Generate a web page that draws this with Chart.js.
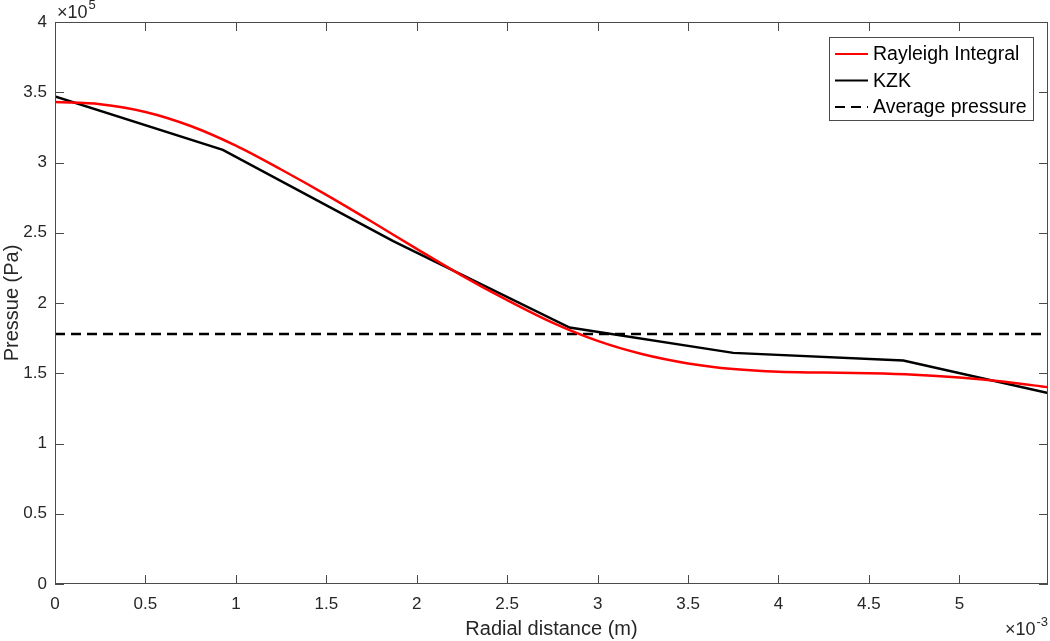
<!DOCTYPE html>
<html>
<head>
<meta charset="utf-8">
<title>Pressure vs radial distance</title>
<script src="https://cdn.jsdelivr.net/npm/chart.js@4"></script>
<style>
  html, body { margin: 0; padding: 0; background: #fff; }
  #wrap { width: 1050px; height: 641px; position: relative; }
</style>
</head>
<body>
<div id="wrap"><canvas id="chart"></canvas></div>
<script>
'use strict';

/* data: x in mm (x10^-3 m), pressure in x10^5 Pa */
const rayleighX = [0, 0.25, 0.5, 0.75, 1.0, 1.25, 1.5, 1.75, 2.0, 2.25, 2.5, 2.75, 3.0, 3.25, 3.5, 3.75, 4.0, 4.25, 4.5, 4.75, 5.0, 5.25, 5.49];
const rayleighY = [3.43, 3.415, 3.36, 3.26, 3.12, 2.95, 2.77, 2.58, 2.385, 2.195, 2.02, 1.86, 1.73, 1.635, 1.57, 1.53, 1.51, 1.505, 1.50, 1.49, 1.47, 1.44, 1.40];
const kzkX = [0, 0.928, 1.87, 2.845, 3.75, 4.69, 5.49];
const kzkY = [3.47, 3.09, 2.44, 1.825, 1.645, 1.59, 1.36];
const avgX = [0, 5.49];
const avgY = [1.78, 1.78];
const xTicks = [0, 0.5, 1, 1.5, 2, 2.5, 3, 3.5, 4, 4.5, 5];
const seriesNames = ['Rayleigh Integral', 'KZK', 'Average pressure'];

const FONT = "'Liberation Sans', Arial, Helvetica, sans-serif";
const AXIS_COLOR = '#4a4a4a';
const TEXT_COLOR = '#262626';

const toPts = (xs, ys) => xs.map((x, i) => ({ x, y: ys[i] }));

/* box, inward ticks and exponent labels, MATLAB style */
const axesBox = {
  id: 'axesBox',
  afterDraw(chart) {
    const { ctx, chartArea: a, scales: { x, y } } = chart;
    const tl = 9;
    ctx.save();
    ctx.strokeStyle = AXIS_COLOR;
    ctx.lineWidth = 1;
    ctx.strokeRect(a.left + 0.5, a.top + 0.5, a.right - a.left - 1, a.bottom - a.top - 1);
    ctx.beginPath();
    x.ticks.forEach(t => {
      const px = Math.round(x.getPixelForValue(t.value)) + 0.5;
      ctx.moveTo(px, a.bottom); ctx.lineTo(px, a.bottom - tl);
      ctx.moveTo(px, a.top); ctx.lineTo(px, a.top + tl);
    });
    y.ticks.forEach(t => {
      const py = Math.round(y.getPixelForValue(t.value)) + 0.5;
      ctx.moveTo(a.left, py); ctx.lineTo(a.left + tl, py);
      ctx.moveTo(a.right, py); ctx.lineTo(a.right - tl, py);
    });
    ctx.stroke();

    // exponent labels
    ctx.fillStyle = TEXT_COLOR;
    ctx.textBaseline = 'alphabetic';
    ctx.textAlign = 'left';
    ctx.font = '18px ' + FONT;
    ctx.fillText('\u00d710', a.left + 2, a.top - 4);
    let w = ctx.measureText('\u00d710').width;
    ctx.font = '13px ' + FONT;
    ctx.fillText('5', a.left + 2 + w + 1, a.top - 13);

    ctx.font = '18px ' + FONT;
    const ex = a.right - 43;
    ctx.fillText('\u00d710', ex, 635);
    w = ctx.measureText('\u00d710').width;
    ctx.font = '13px ' + FONT;
    ctx.fillText('-3', ex + w + 1, 626);
    ctx.restore();
  }
};

/* legend box in the upper right corner */
const legendBox = {
  id: 'legendBox',
  afterDraw(chart) {
    const { ctx } = chart;
    const bx = 829, by = 37, bw = 204, bh = 83;
    ctx.save();
    ctx.fillStyle = '#fff';
    ctx.fillRect(bx, by, bw, bh);
    ctx.strokeStyle = AXIS_COLOR;
    ctx.lineWidth = 1;
    ctx.strokeRect(bx + 0.5, by + 0.5, bw, bh);
    ctx.font = '19.5px ' + FONT;
    ctx.textBaseline = 'middle';
    ctx.textAlign = 'left';
    chart.data.datasets.forEach((ds, i) => {
      const cy = 54 + i * 26.5;
      ctx.strokeStyle = ds.borderColor;
      ctx.lineWidth = 2;
      ctx.setLineDash(ds.borderDash || []);
      ctx.beginPath();
      ctx.moveTo(835, cy); ctx.lineTo(868, cy);
      ctx.stroke();
      ctx.setLineDash([]);
      ctx.fillStyle = '#000';
      ctx.fillText(ds.label, 873, cy + 1);
    });
    ctx.restore();
  }
};

new Chart(document.getElementById('chart'), {
  type: 'line',
  data: {
    datasets: [
      {
        label: seriesNames[0],
        data: toPts(rayleighX, rayleighY),
        borderColor: '#ff0000',
        borderWidth: 2.5,
        cubicInterpolationMode: 'monotone',
        pointRadius: 0,
        fill: false
      },
      {
        label: seriesNames[1],
        data: toPts(kzkX, kzkY),
        borderColor: '#000000',
        borderWidth: 2.5,
        tension: 0,
        pointRadius: 0,
        fill: false
      },
      {
        label: seriesNames[2],
        data: toPts(avgX, avgY),
        borderColor: '#000000',
        borderWidth: 2.5,
        borderDash: [10, 6],
        pointRadius: 0,
        fill: false
      }
    ]
  },
  options: {
    responsive: true,
    maintainAspectRatio: false,
    animation: false,
    layout: { padding: { top: 22, right: 2, left: 0, bottom: 0 } },
    plugins: {
      legend: { display: false },
      tooltip: { enabled: false }
    },
    scales: {
      x: {
        type: 'linear',
        min: 0,
        max: 5.49,
        afterBuildTicks: s => { s.ticks = xTicks.map(v => ({ value: v })); },
        afterFit: s => { s.height = 57; },
        grid: { display: false, drawTicks: false },
        border: { display: false },
        ticks: {
          color: TEXT_COLOR,
          font: { family: FONT, size: 17 },
          padding: 10,
          maxRotation: 0,
          autoSkip: false,
          callback: v => String(v)
        },
        title: {
          display: true,
          text: 'Radial distance (m)',
          color: TEXT_COLOR,
          font: { family: FONT, size: 20 },
          padding: { top: 0, bottom: 0 }
        }
      },
      y: {
        min: 0,
        max: 4,
        afterFit: s => { s.width = 55; },
        grid: { display: false, drawTicks: false },
        border: { display: false },
        ticks: {
          stepSize: 0.5,
          color: TEXT_COLOR,
          font: { family: FONT, size: 17 },
          padding: 8,
          callback: v => String(v)
        },
        title: {
          display: true,
          text: 'Pressue (Pa)',
          color: TEXT_COLOR,
          font: { family: FONT, size: 20 },
          padding: { top: 0, bottom: 0 }
        }
      }
    }
  },
  plugins: [axesBox, legendBox]
});
</script>
</body>
</html>
